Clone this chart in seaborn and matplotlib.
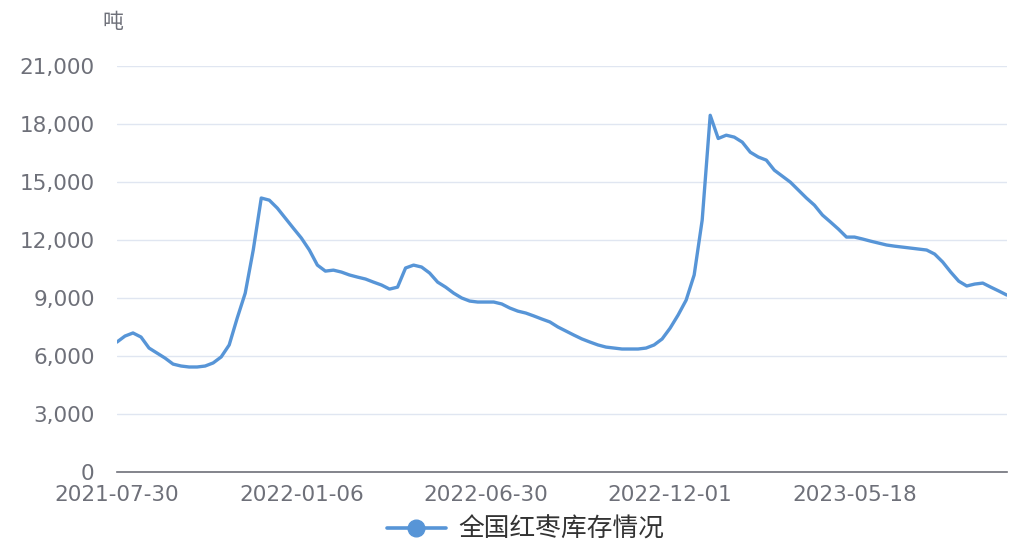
import matplotlib
matplotlib.use("Agg")
import matplotlib.pyplot as plt
from matplotlib.lines import Line2D
from matplotlib.ticker import FuncFormatter, FixedLocator
import seaborn as sns
import pandas as pd

# Weekly national red-date inventory (tonnes)
inventory = [
    6720, 7030, 7190, 6980, 6410, 6150, 5890, 5580, 5480, 5430,
    5430, 5480, 5640, 5950, 6570, 7960, 9250, 11480, 14170, 14060,
    13650, 13130, 12610, 12100, 11480, 10700, 10390, 10440, 10340, 10190,
    10080, 9980, 9820, 9670, 9460, 9560, 10550, 10700, 10600, 10290,
    9820, 9560, 9250, 9000, 8840, 8790, 8790, 8790, 8690, 8480,
    8320, 8220, 8070, 7910, 7760, 7500, 7290, 7080, 6880, 6720,
    6570, 6460, 6410, 6360, 6360, 6360, 6410, 6570, 6880, 7440,
    8120, 8890, 10190, 13030, 18450, 17250, 17420, 17320, 17060, 16540,
    16290, 16130, 15610, 15300, 14990, 14580, 14170, 13800, 13290, 12930,
    12560, 12150, 12150, 12050, 11940, 11840, 11740, 11680, 11630, 11580,
    11530, 11480, 11270, 10860, 10340, 9870, 9620, 9720, 9770, 9560,
    9360, 9150,
]
date_labels = ["2021-07-30", "2022-01-06", "2022-06-30", "2022-12-01", "2023-05-18"]
label_step = 23
series_name = "全国红枣库存情况"
unit = "吨"
y_ticks = [0, 3000, 6000, 9000, 12000, 15000, 18000, 21000]

sns.set_style("white")
plt.rcParams["font.family"] = ["Noto Sans CJK SC", "DejaVu Sans"]

df = pd.DataFrame({"idx": range(len(inventory)), "value": inventory})

line_color = "#5795d7"
text_color = "#6e7079"

fig = plt.figure(figsize=(10.17, 5.43), dpi=100)
ax = fig.add_axes([0.115, 0.1308, 0.875, 0.7477])

sns.lineplot(data=df, x="idx", y="value", ax=ax, color=line_color,
             linewidth=2.4, legend=False)

ax.set_xlim(0, len(inventory) - 1)
ax.set_ylim(y_ticks[0], y_ticks[-1])
ax.set_yticks(y_ticks)
ax.yaxis.set_major_formatter(FuncFormatter(lambda v, p: f"{int(v):,}"))
ax.xaxis.set_major_locator(FixedLocator([i * label_step for i in range(len(date_labels))]))
ax.set_xticklabels(date_labels)

ax.grid(axis="y", color="#e0e6f1", linewidth=1.0)
ax.grid(axis="x", visible=False)
ax.set_axisbelow(True)
for side in ("top", "right", "left"):
    ax.spines[side].set_visible(False)
ax.spines["bottom"].set_color(text_color)
ax.spines["bottom"].set_linewidth(1.2)

for lbl in ax.get_xticklabels() + ax.get_yticklabels():
    lbl.set_family("DejaVu Sans")
ax.tick_params(axis="y", length=0, pad=16, labelsize=15.5, labelcolor=text_color)
ax.tick_params(axis="x", length=5, width=1, color=text_color, pad=4.5,
               labelsize=15.5, labelcolor=text_color)
ax.set_xlabel("")
ax.set_ylabel("")

fig.text(0.111, 0.96, unit, ha="center", va="center", fontsize=15, color=text_color)

handle = Line2D([0], [0], color=line_color, linewidth=2.6, marker="o",
                markersize=12, markerfacecolor=line_color, markeredgecolor=line_color)
fig.legend([handle], [series_name], loc="lower center", bbox_to_anchor=(0.517, -0.042),
           frameon=False, fontsize=18.5, handlelength=2.3, handletextpad=0.5,
           labelcolor="#333333")

fig.savefig("out.png", dpi=100)
